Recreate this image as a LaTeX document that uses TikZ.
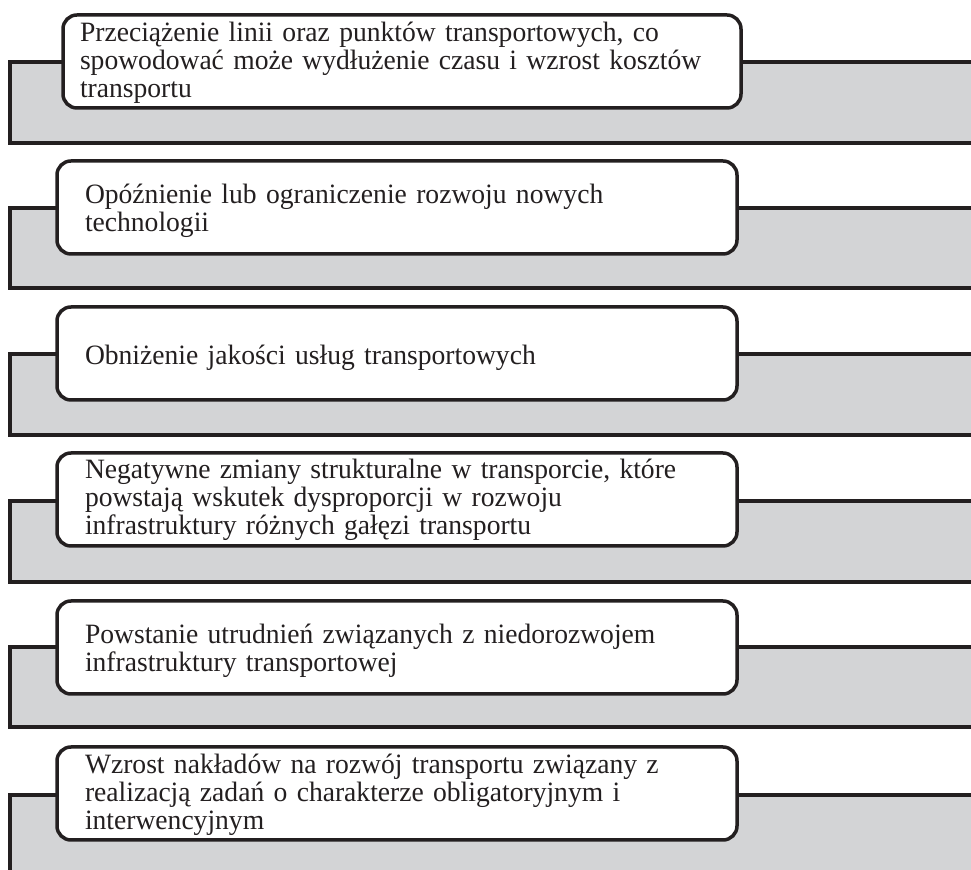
\documentclass[tikz,border=0pt]{standalone}
\usepackage{fontspec}
\setmainfont[FakeStretch=0.985]{Liberation Serif}
\definecolor{bandgray}{RGB}{211,212,214}
\definecolor{ink}{RGB}{35,31,32}
\begin{document}
\begin{tikzpicture}[x=0.5pt,y=-0.5pt,
  band/.style={fill=bandgray,draw=ink,line width=1.75pt},
  box/.style={draw=ink,fill=white,line width=1.75pt,rounded corners=7pt,
    inner sep=0pt,minimum height=46.5pt},
  boxa/.style={box,minimum width=339pt},
  boxb/.style={box,minimum width=340pt},
  txt/.style={align=left,font=\fontsize{14pt}{13.9pt}\selectfont,text=ink,inner sep=0pt},
  txta/.style={txt,text width=322pt},
  txtb/.style={txt,text width=312pt}]
\useasboundingbox (0,0) rectangle (971,870);
\clip (0,0) rectangle (971,870);
% bands
\draw[band] (10,62) rectangle (1000,143);
\draw[band] (10,208) rectangle (1000,288);
\draw[band] (10,354) rectangle (1000,435);
\draw[band] (10,501) rectangle (1000,582);
\draw[band] (10,647) rectangle (1000,727);
\draw[band] (10,795) rectangle (1000,920);
% boxes
\node[boxa] (b1) at (402,61.5) {};
\node[boxb] (b2) at (397,207.5) {};
\node[boxb] (b3) at (397,353.5) {};
\node[boxb] (b4) at (397,499.5) {};
\node[boxb] (b5) at (397,647.5) {};
\node[boxb] (b6) at (397,793.5) {};
% texts
\node[txta] (t1) at ([yshift=-0.5pt]b1.center) {Przeciążenie linii oraz punktów transportowych, co\\spowodować może wydłużenie czasu i wzrost kosztów\\transportu};
\node[txtb] (t2) at ([yshift=-1.5pt]b2.center) {Opóźnienie lub ograniczenie rozwoju nowych\\technologii};
\node[txtb] (t3) at ([yshift=-2pt]b3.center) {Obniżenie jakości usług transportowych};
\node[txtb] (t4) at ([yshift=0pt]b4.center) {Negatywne zmiany strukturalne w transporcie, które\\powstają wskutek dysproporcji w rozwoju\\infrastruktury różnych gałęzi transportu};
\node[txtb] (t5) at ([yshift=-1.5pt]b5.center) {Powstanie utrudnień związanych z niedorozwojem\\infrastruktury transportowej};
\node[txtb] (t6) at ([yshift=-0.5pt]b6.center) {Wzrost nakładów na rozwój transportu związany z\\realizacją zadań o charakterze obligatoryjnym i\\interwencyjnym};
\end{tikzpicture}
\end{document}
